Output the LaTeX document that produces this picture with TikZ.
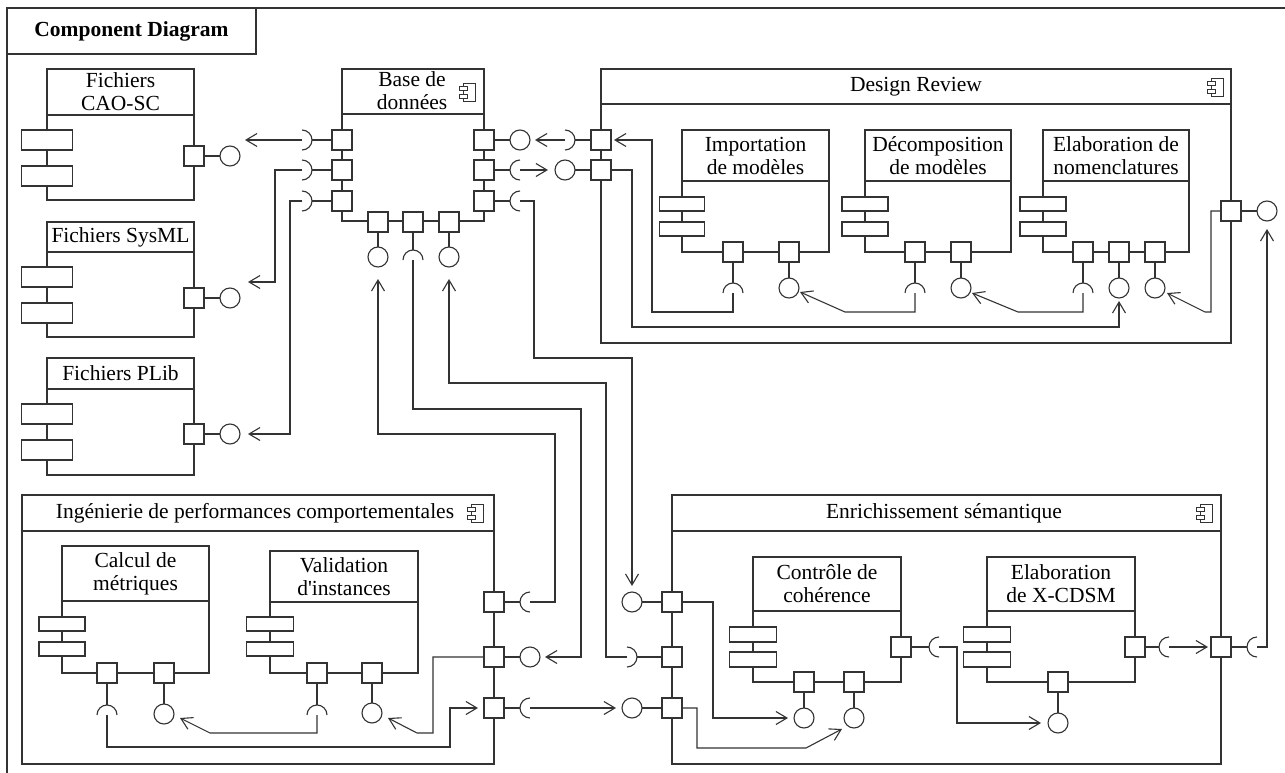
\documentclass[tikz,border=0pt]{standalone}
\usepackage{fontspec}
\setmainfont{Liberation Serif}
\usetikzlibrary{arrows.meta,calc}
\tikzset{
 ln/.style={line width=1.1pt, draw=black!80},
 box/.style={ln, fill=white, inner sep=0pt, outer sep=0pt},
 port/.style={box, rectangle, minimum size=20pt},
 lolli/.style={box, circle, minimum size=20pt},
 ttl/.style={font=\fontsize{21.5}{23}\selectfont, align=center, inner sep=0pt},
 arr/.style={ln, -{Straight Barb[length=11pt,width=13pt]}},
 sockL/.pic={\draw[ln] (0,10) arc[start angle=90,end angle=270,radius=10];},
 sockR/.pic={\draw[ln] (0,-10) arc[start angle=-90,end angle=90,radius=10];},
 sockU/.pic={\draw[ln] (-10,0) arc[start angle=180,end angle=360,radius=10];},
}
\newcommand\ucomp[9]{%
 \node[box,anchor=north west,minimum width={#4-#2},minimum height={#6-#3}] (#1) at (#2,#3) {};
 \draw[ln] (#2,#5) -- (#4,#5);
 \draw[box] ({#2-#7},#8) rectangle ({#2+#7},{#8+\myrh});
 \draw[box] ({#2-#7},#9) rectangle ({#2+#7},{#9+\myrh});
}
\newcommand\cicon[2]{%
 \draw[ln,line width=0.8pt,fill=white] ({#1-5},{#2-9}) rectangle ({#1+7},{#2+9});
 \draw[ln,line width=0.8pt,fill=white] ({#1-9},{#2-6}) rectangle ({#1-1},{#2-2});
 \draw[ln,line width=0.8pt,fill=white] ({#1-9},{#2+2}) rectangle ({#1-1},{#2+6});
}
\begin{document}
\begin{tikzpicture}[x=1pt,y=-1pt]
\useasboundingbox (0,0) rectangle (1285,773);
% frame
\draw[ln] (7,773) -- (7,8) -- (1285,8);
\node[box,anchor=north west,minimum width=249,minimum height=46] (title) at (7,8) {};
\node[ttl,font=\fontsize{21.5}{23}\selectfont\bfseries] (titleT) at (131.5,31) {Component Diagram};

% Fichiers
\def\myrh{20}
\ucomp{cao}{47}{69}{194}{115}{200}{25.5}{130}{166}
\node[ttl] (caoT) at (120.5,92) {Fichiers\\CAO-SC};
\ucomp{sysml}{47}{222}{194}{252}{337}{25.5}{267}{303}
\node[ttl] (sysmlT) at (120.5,237) {Fichiers SysML};
\ucomp{plib}{47}{358}{194}{389}{475}{25.5}{404}{440}
\node[ttl] (plibT) at (120.5,373.5) {Fichiers PLib};

% Base
\node[box,anchor=north west,minimum width=142,minimum height=152] (base) at (342,69) {};
\draw[ln] (342,114) -- (484,114);
\node[ttl] (baseT) at (412,91) {Base de\\données};
\cicon{468}{92}

% Design Review
\node[box,anchor=north west,minimum width=630,minimum height=274] (dr) at (601,69) {};
\draw[ln] (601,104) -- (1231,104);
\node[ttl] (drT) at (916,87) {Design Review};
\cicon{1216}{87}
\def\myrh{14}
\ucomp{imp}{682}{130}{829}{181}{252}{22.5}{197}{222}
\node[ttl] (impT) at (755.5,155.5) {Importation\\de modèles};
\ucomp{dec}{865}{130}{1011}{181}{252}{23}{197}{222}
\node[ttl] (decT) at (938,155.5) {Décomposition\\de modèles};
\ucomp{eln}{1043}{130}{1189}{181}{252}{23}{197}{222}
\node[ttl] (elnT) at (1116,155.5) {Elaboration de\\nomenclatures};

% Ingenierie
\node[box,anchor=north west,minimum width=472,minimum height=269] (ing) at (22,495) {};
\draw[ln] (22,531) -- (494,531);
\node[ttl] (ingT) at (255,513) {Ingénierie de performances comportementales};
\cicon{476}{513}
\ucomp{cal}{62}{546}{209}{601}{673}{23}{617}{642}
\node[ttl] (calT) at (135.5,573.5) {Calcul de\\métriques};
\ucomp{val}{270}{551}{418}{602}{673}{23.5}{617}{642}
\node[ttl] (valT) at (344,576.5) {Validation\\d\textquotesingle instances};

% Enrichissement
\node[box,anchor=north west,minimum width=549,minimum height=269] (enr) at (672,495) {};
\draw[ln] (672,531) -- (1221,531);
\node[ttl] (enrT) at (944,513) {Enrichissement sémantique};
\cicon{1205}{513}
\def\myrh{15}
\ucomp{ctl}{753}{557}{901}{611}{682}{23.5}{627}{652}
\node[ttl] (ctlT) at (827,584) {Contrôle de\\cohérence};
\ucomp{xcd}{987}{557}{1135}{611}{682}{23.5}{627}{652}
\node[ttl] (xcdT) at (1061,584) {Elaboration\\de X-CDSM};

% ---- ports, lollipops, sockets ----
\node[port] (cp) at (194,156) {}; \node[lolli] (cl) at (230,156) {};
\node[port] (sp) at (194,298) {}; \node[lolli] (sl) at (230,298) {};
\node[port] (pp) at (194,434) {}; \node[lolli] (pl) at (230,434) {};
\draw[ln] (cp) -- (cl); \draw[ln] (sp) -- (sl); \draw[ln] (pp) -- (pl);

\node[port] (bl1) at (342,140) {}; \node[port] (bl2) at (342,170) {}; \node[port] (bl3) at (342,201) {};
\node[port] (br1) at (484,140) {}; \node[port] (br2) at (484,170) {}; \node[port] (br3) at (484,201) {};
\node[port] (bb1) at (378,222) {}; \node[port] (bb2) at (413,222) {}; \node[port] (bb3) at (449,222) {};
\node[lolli] (bbl1) at (378,257) {}; \coordinate (bbs2) at (413,260); \pic at (bbs2) {sockU}; \node[lolli] (bbl3) at (449,257) {};
\draw[ln] (bb1) -- (bbl1); \draw[ln] (bb2) -- ($(bbs2)+(0,-10)$); \draw[ln] (bb3) -- (bbl3);
\coordinate (bls1) at (302,140); \pic at (bls1) {sockR};
\coordinate (bls2) at (302,170); \pic at (bls2) {sockR};
\coordinate (bls3) at (302,201); \pic at (bls3) {sockR};
\draw[ln] (bl1) -- ($(bls1)+(10,0)$); \draw[ln] (bl2) -- ($(bls2)+(10,0)$); \draw[ln] (bl3) -- ($(bls3)+(10,0)$);
\node[lolli] (brl1) at (520,140) {};
\coordinate (brs2) at (520,170); \pic at (brs2) {sockL};
\coordinate (brs3) at (520,201); \pic at (brs3) {sockL};
\draw[ln] (br1) -- (brl1); \draw[ln] (br2) -- ($(brs2)+(-10,0)$); \draw[ln] (br3) -- ($(brs3)+(-10,0)$);

% DR ports
\node[port] (dl1) at (601,140) {}; \node[port] (dl2) at (601,170) {};
\coordinate (dls1) at (565,140); \pic at (dls1) {sockR};
\node[lolli] (dll2) at (565,170) {};
\draw[ln] (dl1) -- ($(dls1)+(10,0)$); \draw[ln] (dl2) -- (dll2);
\node[port] (dr1) at (1231,211) {}; \node[lolli] (drl) at (1267,211) {};
\draw[ln] (dr1) -- (drl);
\node[port] (ip1) at (733,252) {}; \coordinate (ips1) at (733,293); \pic at (ips1) {sockU};
\node[port] (ip2) at (789,252) {}; \node[lolli] (ipl2) at (789,288) {};
\node[port] (dp1) at (915,252) {}; \coordinate (dps1) at (915,293); \pic at (dps1) {sockU};
\node[port] (dp2) at (961,252) {}; \node[lolli] (dpl2) at (961,288) {};
\node[port] (ep1) at (1083,252) {}; \coordinate (eps1) at (1083,293); \pic at (eps1) {sockU};
\node[port] (ep2) at (1119,252) {}; \node[lolli] (epl2) at (1119,288) {};
\node[port] (ep3) at (1155,252) {}; \node[lolli] (epl3) at (1155,288) {};
\draw[ln] (ip1) -- ($(ips1)+(0,-10)$); \draw[ln] (ip2) -- (ipl2);
\draw[ln] (dp1) -- ($(dps1)+(0,-10)$); \draw[ln] (dp2) -- (dpl2);
\draw[ln] (ep1) -- ($(eps1)+(0,-10)$); \draw[ln] (ep2) -- (epl2); \draw[ln] (ep3) -- (epl3);

% Ingenierie ports
\node[port] (gp1) at (494,602) {}; \coordinate (gs1) at (530,602); \pic at (gs1) {sockL};
\node[port] (gp2) at (494,657) {}; \node[lolli] (gl2) at (530,657) {};
\node[port] (gp3) at (494,708) {}; \coordinate (gs3) at (530,708); \pic at (gs3) {sockL};
\draw[ln] (gp1) -- ($(gs1)+(-10,0)$); \draw[ln] (gp2) -- (gl2); \draw[ln] (gp3) -- ($(gs3)+(-10,0)$);
\node[port] (kp1) at (107,673) {}; \coordinate (ks1) at (107,715); \pic at (ks1) {sockU};
\node[port] (kp2) at (164,673) {}; \node[lolli] (kl2) at (164,714) {};
\node[port] (vp1) at (317,673) {}; \coordinate (vs1) at (317,715); \pic at (vs1) {sockU};
\node[port] (vp2) at (372,673) {}; \node[lolli] (vl2) at (372,713) {};
\draw[ln] (kp1) -- ($(ks1)+(0,-10)$); \draw[ln] (kp2) -- (kl2);
\draw[ln] (vp1) -- ($(vs1)+(0,-10)$); \draw[ln] (vp2) -- (vl2);

% Enrichissement ports
\node[port] (np1) at (672,602) {}; \node[lolli] (nl1) at (632,602) {};
\node[port] (np2) at (672,657) {}; \coordinate (ns2) at (627,657); \pic at (ns2) {sockR};
\node[port] (np3) at (672,708) {}; \node[lolli] (nl3) at (632,708) {};
\node[port] (np4) at (1221,647) {}; \coordinate (ns4) at (1257,647); \pic at (ns4) {sockL};
\draw[ln] (np1) -- (nl1); \draw[ln] (np2) -- ($(ns2)+(10,0)$); \draw[ln] (np3) -- (nl3); \draw[ln] (np4) -- ($(ns4)+(-10,0)$);
\node[port] (tp1) at (804,682) {}; \node[lolli] (tl1) at (804,718) {};
\node[port] (tp2) at (854,682) {}; \node[lolli] (tl2) at (854,718) {};
\node[port] (tp3) at (901,647) {}; \coordinate (ts3) at (939,647); \pic at (ts3) {sockL};
\node[port] (xp1) at (1135,647) {}; \coordinate (xs1) at (1169,647); \pic at (xs1) {sockL};
\node[port] (xp2) at (1058,682) {}; \node[lolli] (xl2) at (1058,723) {};
\draw[ln] (tp1) -- (tl1); \draw[ln] (tp2) -- (tl2); \draw[ln] (tp3) -- ($(ts3)+(-10,0)$);
\draw[ln] (xp1) -- ($(xs1)+(-10,0)$); \draw[ln] (xp2) -- (xl2);

% ---- dependency connectors ----
\draw[arr] (bls1) -- (245,140);
\draw[arr] (bls2) -- (275,170) -- (275,282) -- (248,282);
\draw[arr] (bls3) -- (290,201) -- (290,434) -- (248,434);
\draw[arr] (dls1) -- (535,140);
\draw[arr] (brs2) -- (548,170);
\draw[arr] (brs3) -- (534,201) -- (534,358) -- (632,358) -- (632,586);
\draw[arr] (gs1) -- (555,602) -- (555,434) -- (378,434) -- (378,279);
\draw[arr] (bbs2) -- (413,409) -- (581,409) -- (581,657) -- (545,657);
\draw[arr] (ns2) -- (606,657) -- (606,383) -- (449,383) -- (449,279);
\draw[arr] (gs3) -- (616,708);

\draw[arr] (ips1) -- (733,312) -- (652,312) -- (652,140) -- (614,140);
\draw[arr] (dl2) -- (632,170) -- (632,327) -- (1119,327) -- (1119,301);
\draw[arr] (dps1) -- (915,312) -- (845,312) -- (800,292);
\draw[arr] (eps1) -- (1083,312) -- (1018,312) -- (972,293);
\draw[arr] (dr1) -- (1211,211) -- (1211,312) -- (1205,312) -- (1167,293);
\draw[arr] (ns4) -- (1267,647) -- (1267,229);

\draw[arr] (gp2) -- (433,657) -- (433,733) -- (417,733) -- (388,718);
\draw[arr] (ks1) -- (107,747) -- (450,747) -- (450,708) -- (478,708);
\draw[arr] (vs1) -- (317,733) -- (210,733) -- (180,718);

\draw[arr] (np1) -- (713,602) -- (713,718) -- (788,718);
\draw[arr] (np3) -- (697,708) -- (697,748) -- (806,748) -- (842,729);
\draw[arr] (ts3) -- (957,647) -- (957,723) -- (1041,723);
\draw[arr] (xs1) -- (1208,647);
\end{tikzpicture}
\end{document}
